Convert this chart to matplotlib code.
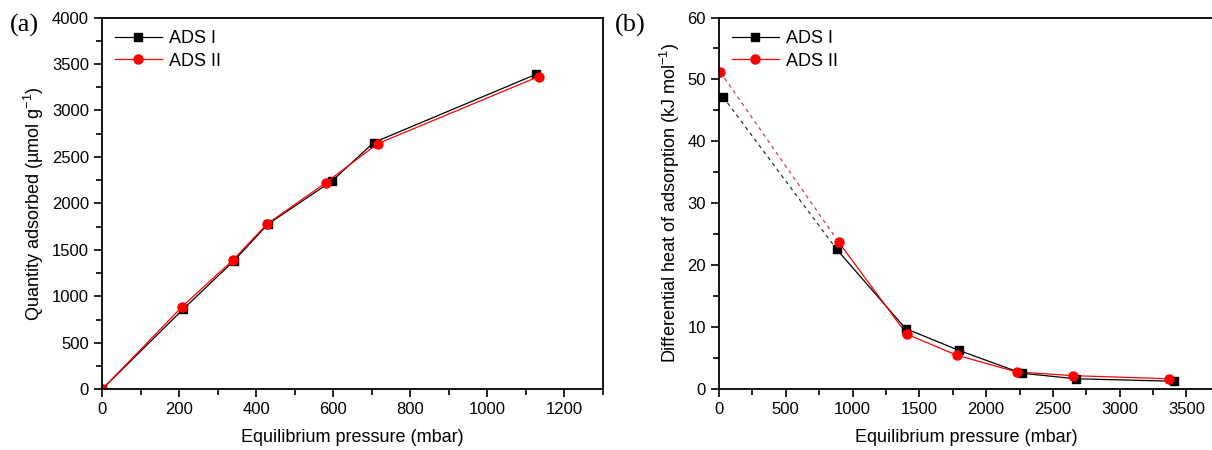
import matplotlib
matplotlib.use('Agg')
import matplotlib.pyplot as plt
from matplotlib.ticker import MultipleLocator

plt.rcParams['font.family'] = ['Liberation Sans', 'DejaVu Sans']
plt.rcParams['mathtext.fontset'] = 'custom'
plt.rcParams['mathtext.rm'] = 'Liberation Sans'
plt.rcParams['mathtext.it'] = 'Liberation Sans:italic'

# (a) adsorption isotherms
p_a1 = [0, 211, 343, 430, 598, 705, 1127]
q_a1 = [0, 864, 1385, 1775, 2245, 2655, 3390]
p_a2 = [0, 208, 340, 428, 580, 715, 1133]
q_a2 = [0, 889, 1392, 1778, 2220, 2642, 3365]

# (b) differential heat
p_b1 = [30, 881, 1397, 1794, 2265, 2670, 3405]
h_b1 = [47.2, 22.6, 9.8, 6.3, 2.6, 1.7, 1.3]
p_b2 = [10, 898, 1405, 1781, 2228, 2650, 3368]
h_b2 = [51.2, 23.7, 8.9, 5.5, 2.8, 2.2, 1.7]

fig = plt.figure(figsize=(12.12, 4.5), dpi=100)
ax1 = fig.add_axes([0.0842, 0.1349, 0.4133, 0.8262])
ax2 = fig.add_axes([0.5932, 0.1349, 0.4078, 0.8262])

lw = 0.9
ms_s, ms_c = 6, 6.5
ax1.plot(p_a1, q_a1, color='black', lw=lw, marker='s', ms=ms_s, label='ADS I')
ax1.plot(p_a2, q_a2, color='red', lw=lw, marker='o', ms=ms_c, label='ADS II')

ax2.plot(p_b1[:2], h_b1[:2], color='#333333', lw=lw, ls=(0, (3, 3)))
ax2.plot(p_b2[:2], h_b2[:2], color='#cc4444', lw=lw, ls=(0, (3, 3)))
ax2.plot(p_b1[1:], h_b1[1:], color='black', lw=lw)
ax2.plot(p_b2[1:], h_b2[1:], color='red', lw=lw)
ax2.plot(p_b1, h_b1, color='black', lw=lw, ls='none', marker='s', ms=ms_s)
ax2.plot(p_b2, h_b2, color='red', lw=lw, ls='none', marker='o', ms=ms_c)
ax2.plot([], [], color='black', lw=lw, marker='s', ms=ms_s, label='ADS I')
ax2.plot([], [], color='red', lw=lw, marker='o', ms=ms_c, label='ADS II')

ax1.set_xlim(0, 1300)
ax1.set_ylim(0, 4000)
ax1.xaxis.set_major_locator(MultipleLocator(200))
ax1.xaxis.set_minor_locator(MultipleLocator(100))
ax1.yaxis.set_major_locator(MultipleLocator(500))
ax1.yaxis.set_minor_locator(MultipleLocator(250))

ax2.set_xlim(0, 3700)
ax2.set_ylim(0, 60)
ax2.xaxis.set_major_locator(MultipleLocator(500))
ax2.xaxis.set_minor_locator(MultipleLocator(250))
ax2.yaxis.set_major_locator(MultipleLocator(10))
ax2.yaxis.set_minor_locator(MultipleLocator(5))

for ax in (ax1, ax2):
    ax.tick_params(which='both', direction='out', top=False, right=False, labelsize=12)
    ax.tick_params(which='major', length=6, width=1.2)
    ax.tick_params(which='minor', length=4, width=1.2)
    for s in ax.spines.values():
        s.set_linewidth(1.3)
    ax.set_xlabel('Equilibrium pressure (mbar)', fontsize=13, labelpad=8)
    ax.legend(loc='upper left', frameon=False, fontsize=13, handlelength=2.6,
              borderaxespad=0.3, handletextpad=0.4, labelspacing=0.3)

ax1.set_ylabel('Quantity adsorbed (\u00b5mol g$^{-1}$)', fontsize=13)
ax2.set_ylabel('Differential heat of adsorption (kJ mol$^{-1}$)', fontsize=13)

fig.text(0.008, 0.93, '(a)', fontsize=19, family='Liberation Serif')
fig.text(0.507, 0.93, '(b)', fontsize=19, family='Liberation Serif')

fig.savefig('out.png', dpi=100)
